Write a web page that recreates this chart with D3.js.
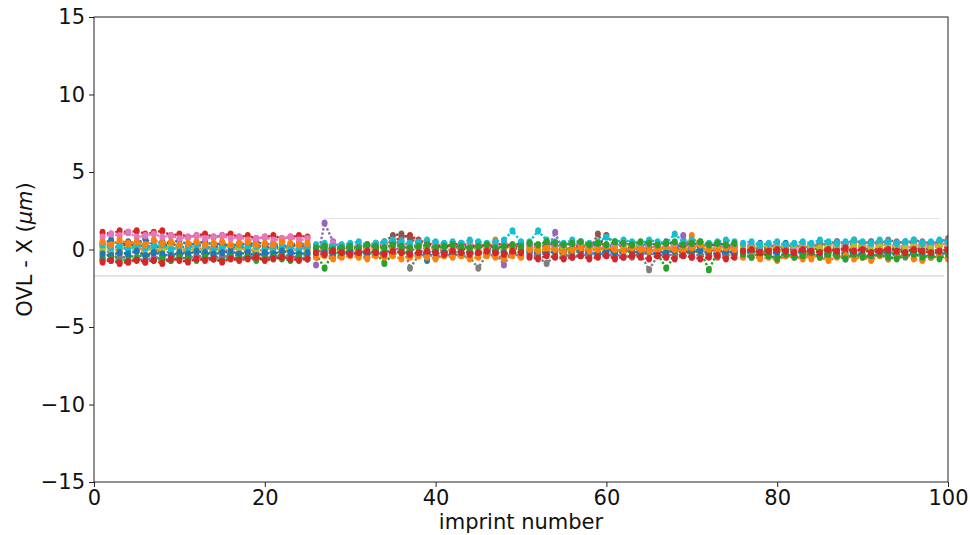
<!DOCTYPE html>
<html>
<head>
<meta charset="utf-8">
<script src="https://cdn.jsdelivr.net/npm/d3@7"></script>
<style>
  body { margin: 0; background: #fff; }
  svg { display: block; }
  text { font-family: "DejaVu Sans", sans-serif; }
</style>
</head>
<body>
<svg id="chart" width="970" height="535"></svg>
<script>
// Imprint numbers and the first imprint of each batch (lines break between batches)
const imprints = d3.range(1, 101);
const batchStarts = [1, 26, 51, 76];
const xTicks = [0, 20, 40, 60, 80, 100];
const yTicks = [-15, -10, -5, 0, 5, 10, 15];
// Reference levels (µm)
const limitUpper = 2.0;
const limitLower = -1.7;

// OVL-X per mark position, one array per position, 100 imprints each
const ovl00 = [.4,.6,.3,.5,.4,.7,.3,.5,.4,.6,.3,.4,.5,.3,.4,.2,.4,.3,.5,.3,.4,.2,.3,.4,.3,
  .2,.3,.1,.2,0,.1,.2,.1,.3,.2,.4,.3,.2,-.7,.1,.2,.3,.1,.2,.2,.3,.1,.2,.3,.4,
  .4,.3,.5,.2,.3,.4,.2,.3,.4,.3,.2,.4,.3,.2,.4,.3,.5,.3,.2,.4,.3,.2,.4,.3,.2,
  .3,.2,.4,.3,.2,.4,.3,.2,.3,.4,.3,.5,.4,.3,.4,.5,.3,.4,.3,.5,.4,.3,.4,.5,.4];
const ovl01 = [0,.1,-.1,.2,0,.1,-.1,0,.1,0,-.1,.1,0,.1,-.1,0,.1,0,-.1,0,.1,0,-.1,0,.1,
  .1,-.1,0,.1,0,-.1,.1,0,.2,.1,0,.1,.2,0,.1,-.1,0,.1,0,.1,0,.6,.1,.2,0,
  .1,0,.2,-.1,.1,0,.2,.1,0,.1,-.1,0,.1,0,.2,.1,0,.1,0,.9,.1,0,.1,.2,0,
  -.2,0,-.3,.1,-.1,0,-.2,.1,-.6,0,-.1,.1,0,-.2,.1,-.1,0,-.3,.1,-.1,0,-.2,-.1,0,-.1];
const ovl02 = [-.5,-.3,-.6,-.4,-.5,-.3,-.6,-.4,-.5,-.3,-.4,-.5,-.3,-.4,-.6,-.3,-.4,-.5,-.3,-.4,-.5,-.3,-.4,-.5,-.3,
  -.3,-1.2,-.2,-.3,-.1,-.2,-.3,-.2,-.9,-.3,-.2,-.4,-.3,-.2,-.3,-.1,-.2,-.3,-.2,-.3,-.1,-.2,-.3,-.2,-.3,
  -.2,-.3,-.1,-.2,-.3,-.1,-.2,-.3,-.2,-.1,-.3,-.2,-.1,-.3,-.2,-.3,-1.2,-.4,-.3,-.2,-.1,-1.3,-.2,-.3,-.2,
  -.1,-.2,0,-.1,-.2,-.1,0,-.2,-.1,0,-.2,-.1,-.3,-.1,0,-.2,-.1,-.3,-.2,-.1,0,-.2,-.1,-.3,-.2];
const ovl03 = [1.1,1.0,1.2,1.1,1.2,1.0,1.1,1.2,.9,1.0,.8,.9,1.0,.8,.9,1.0,.8,.9,.7,.8,.9,.7,.8,.9,.8,
  .1,.2,0,.1,.2,.1,.3,.2,.4,.5,.8,.9,.6,.4,.3,.2,.3,.4,.2,.3,.2,.3,.4,.2,.3,
  .2,.1,.3,.2,0,.1,.2,.3,.2,.9,.3,.2,.1,.2,.3,.1,.2,.3,.2,.1,.2,.3,.2,.1,.2,
  .1,0,.2,.1,0,.1,.2,0,.1,.2,0,.1,-.1,0,.1,.2,0,.1,0,.2,.1,0,.1,.2,.1];
const ovl04 = [-.6,-.7,-.5,-.8,-.6,-.7,-.5,-.6,-.7,-.5,-.6,-.4,-.5,-.6,-.4,-.5,-.6,-.4,-.5,-.6,-.4,-.5,-.4,-.6,-.5,
  -1.0,1.7,.5,-.1,-.3,-.2,-.1,-.3,-.2,-.1,.2,.1,-.2,-.1,-.3,-.2,-.1,-.3,-.2,-.1,-.3,-.2,-1.0,-.1,-.2,
  -.3,-.4,-.2,1.1,-.3,-.5,-.4,-.3,-.2,-.4,-.3,-.5,-.4,-.3,-.2,-.4,-.3,-.4,.9,-.3,-.4,-.2,-.3,-.4,-.3,
  -.4,-.5,-.3,-.4,-.5,-.3,-.4,-.5,-.3,-.4,-.5,-.4,-.6,-.3,-.4,-.5,-.3,-.6,-.4,-.5,-.3,-.4,-.5,-.3,-.4];
const ovl05 = [.2,.3,.1,.4,.2,.3,.1,.2,.4,.2,.1,.3,.2,.1,.3,.2,.1,.2,.3,.1,.2,.1,.2,.3,.1,
  0,.1,-.1,0,.1,.2,.3,.4,.5,.9,1.0,.7,.4,.3,.2,.1,.2,0,.1,.2,.1,0,.2,.1,0,
  -.1,0,-.2,-.1,0,-.1,.1,-.1,1.0,0,-.1,0,-.2,-.1,0,-.1,-.2,0,-.1,-.2,0,-.1,0,-.2,-.1,
  0,-.1,.1,0,-.1,.1,0,-.2,0,.1,-.1,0,.1,-.1,0,.1,-.1,0,.1,-.1,0,.1,0,-.1,0];
const ovl06 = [.8,1.0,.9,1.1,.8,.9,1.0,.8,.9,.7,.8,.9,.7,.8,.9,.7,.8,.6,.7,.8,.6,.7,.8,.6,.7,
  .3,.2,.4,.3,.2,.3,.2,.4,.3,.2,.3,.4,.3,.2,.4,.3,.2,.3,.4,.3,.2,.3,.4,.3,.2,
  .3,.2,.1,.3,.2,.4,.3,.2,.1,.3,.2,.4,.3,.2,.3,.1,.2,.3,.4,.2,.3,.2,.1,.3,.2,
  .2,.3,.1,.2,.3,.2,.1,.3,.2,.4,.2,.3,.2,.1,.3,.2,.4,.2,.3,.1,.2,.3,.2,.4,.3];
const ovl07 = [-.2,-.1,-.3,-.2,-.1,-.3,-.2,-.1,-.2,-.3,-.1,-.2,-.3,-.1,-.2,-.3,-.2,-.1,-.2,-.3,-.1,-.2,-.1,-.3,-.2,
  -.4,-.3,-.5,-.4,-.3,-.4,-.5,-.3,-.4,.3,.6,-1.2,-.4,-.3,-.5,-.4,-.3,-.4,-.5,-1.2,-.3,-.4,-.5,-.3,-.4,
  -.4,-.5,-.9,-.4,-.5,-.3,-.4,-.5,-.4,-.3,-.5,-.4,-.5,-.3,-1.3,-.4,-.5,-.3,-.4,-.5,-.3,-.4,-.5,-.4,-.3,
  .1,.2,0,.3,.1,.2,.3,.1,.2,.3,.4,.5,.4,.6,.4,.5,.4,.6,.5,.4,.6,.5,.4,.5,.7];
const ovl08 = [.1,0,.2,.1,0,-.1,.1,0,.2,.1,0,.1,-.1,0,.1,.2,0,.1,0,-.1,.1,0,.1,0,-.1,
  -.1,0,.1,-.1,0,.1,0,-.1,.1,0,-.1,0,.1,0,-.1,.1,0,-.1,.1,0,.1,-.1,0,.1,0,
  0,.1,-.1,0,.1,0,-.1,.1,0,-.1,0,.1,.4,0,-.1,0,.1,-.1,0,.1,-.1,0,.1,0,-.1,
  .2,.1,.3,.2,.1,.2,.3,.1,.2,.1,.3,.2,.1,.3,.2,.1,.2,.3,.2,.1,.3,.2,.1,.2,.3];
const ovl09 = [.3,.1,.2,0,.3,.1,.2,.3,0,.2,.1,.3,.2,0,.1,.2,.3,.1,.2,0,.1,.2,.1,0,.2,
  .3,.4,.2,.3,.4,.5,.3,.4,.5,.6,.5,.4,.5,.6,.5,.4,.5,.4,.6,.5,.4,.5,.6,1.2,.5,
  .5,1.2,.6,.5,.4,.6,.5,.4,.5,.8,.5,.6,.5,.4,.6,.5,.4,1.0,.5,.6,.5,.4,.5,.6,.5,
  .4,.5,.3,.4,.5,.3,.4,.5,.4,.6,.5,.4,.5,.6,.5,.4,.6,.5,.4,.5,.6,.4,.5,.6,.5];
const ovl10 = [-.3,-.4,-.2,-.3,-.1,-.4,-.2,-.3,-.4,-.2,-.3,-.1,-.2,-.3,-.2,-.1,-.3,-.2,-.4,-.2,-.3,-.1,-.2,-.3,-.2,
  -.2,-.1,-.3,-.2,-.1,-.3,-.2,-.1,-.2,-.3,-.1,-.2,-.3,-.2,-.1,-.2,-.3,-.1,-.2,-.3,-.2,-.1,-.2,-.3,-.1,
  -.1,-.2,-.3,-.1,-.2,0,-.1,-.2,-.3,-.1,-.2,-.1,0,-.2,-.1,-.3,-.2,-.1,-.2,0,-.1,-.2,-.3,-.1,-.2,
  -.3,-.2,-.4,-.3,-.2,-.4,-.3,-.2,-.3,-.4,-.2,-.3,-.4,-.2,-.3,-.4,-.3,-.2,-.4,-.3,-.2,-.3,-.4,-.3,-.2];
const ovl11 = [.5,.3,.6,.4,.5,.3,.6,.4,.5,.3,.4,.5,.3,.4,.5,.3,.4,.5,.3,.4,.3,.5,.4,.3,.4,
  -.5,-.4,-.6,-.5,-.4,-.5,-.6,-.4,-.5,-.4,-.6,-.5,-.4,-.5,-.6,-.4,-.5,-.4,-.6,-.5,-.4,-.5,-.6,-.4,-.5,
  0,-.1,.1,0,-.2,0,.1,-.1,0,.2,0,-.1,.1,0,-.1,0,.2,0,-.1,.1,.3,0,-.1,.1,0,
  -.5,-.4,-.6,-.5,-.7,-.4,-.5,-.6,-.4,-.5,-.7,-.5,-.4,-.6,-.5,-.7,-.4,-.6,-.5,-.4,-.6,-.7,-.5,-.4,-.6];
const ovl12 = [-.7,-.6,-.8,-.7,-.6,-.8,-.7,-.6,-.7,-.5,-.6,-.7,-.5,-.6,-.7,-.5,-.6,-.5,-.7,-.6,-.5,-.6,-.7,-.5,-.6,
  .1,.2,0,.1,.2,.1,.3,.2,.1,.3,.2,.1,.2,.3,.1,.2,.3,.2,.1,.2,.3,.1,.2,.3,.2,
  .4,.3,.5,.4,.3,.4,.5,.3,.4,.3,.5,.4,.3,.5,.4,.3,.4,.5,.3,.4,.5,.3,.4,.3,.4,
  -.3,-.5,-.2,-.4,-.6,-.3,-.5,-.4,-.2,-.5,-.3,-.4,-.6,-.3,-.5,-.4,-.3,-.5,-.6,-.4,-.3,-.5,-.4,-.6,-.3];
const ovl13 = [-.8,-.7,-.9,-.8,-.7,-.8,-.7,-.9,-.6,-.7,-.8,-.6,-.7,-.6,-.8,-.6,-.7,-.6,-.5,-.7,-.6,-.5,-.6,-.7,-.6,
  -.2,-.3,-.1,-.2,-.3,-.2,-.1,-.2,-.3,-.1,-.2,-.3,-.2,-.1,-.2,-.3,-.1,-.2,-.3,-.2,-.1,-.2,-.3,-.1,-.2,
  -.5,-.6,-.4,-.5,-.6,-.5,-.4,-.6,-.5,-.4,-.6,-.5,-.4,-.5,-.6,-.4,-.5,-.6,-.4,-.5,-.6,-.5,-.4,-.6,-.5,
  -.1,0,-.2,-.1,0,-.1,-.2,0,-.1,-.2,0,-.1,.1,-.1,0,-.2,-.1,0,-.1,-.2,0,-.1,-.2,-.1,0];

const seriesList = [ovl00, ovl01, ovl02, ovl03, ovl04, ovl05, ovl06,
                    ovl07, ovl08, ovl09, ovl10, ovl11, ovl12, ovl13];
const palette = d3.schemeCategory10;

const svg = d3.select("#chart");
const plot = { left: 94, right: 948, top: 17, bottom: 482 };

const x = d3.scaleLinear().domain([0, 100]).range([plot.left, plot.right]);
const y = d3.scaleLinear().domain([-15, 15]).range([plot.bottom, plot.top]);

// Reference lines
svg.append("line")
  .attr("x1", x(27)).attr("x2", x(99))
  .attr("y1", y(limitUpper)).attr("y2", y(limitUpper))
  .attr("stroke", "#e2e2e2").attr("stroke-width", 1.2);
svg.append("line")
  .attr("x1", x(0)).attr("x2", x(99.5))
  .attr("y1", y(limitLower)).attr("y2", y(limitLower))
  .attr("stroke", "#d4d4d4").attr("stroke-width", 1.2);

svg.append("clipPath").attr("id", "plotClip")
  .append("rect")
  .attr("x", plot.left).attr("y", plot.top)
  .attr("width", plot.right - plot.left).attr("height", plot.bottom - plot.top);

const batchOf = i => d3.bisectRight(batchStarts, imprints[i]) - 1;

const line = d3.line()
  .x(d => x(d.n))
  .y(d => y(d.v));

const gData = svg.append("g").attr("clip-path", "url(#plotClip)");

seriesList.forEach((vals, k) => {
  const color = palette[k % palette.length];
  const pts = vals.map((v, i) => ({ n: imprints[i], v, b: batchOf(i) }));
  const groups = d3.groups(pts, d => d.b).map(g => g[1]);
  const g = gData.append("g");
  g.selectAll("path")
    .data(groups)
    .join("path")
    .attr("d", line)
    .attr("fill", "none")
    .attr("stroke", color)
    .attr("stroke-width", 2.4)
    .attr("stroke-dasharray", "2.4,2");
  g.selectAll("ellipse")
    .data(pts)
    .join("ellipse")
    .attr("cx", d => x(d.n))
    .attr("cy", d => y(d.v))
    .attr("rx", 3)
    .attr("ry", 3.6)
    .attr("fill", color);
});

// Axes
const fontSize = "21px";
const xAxis = svg.append("g")
  .attr("transform", `translate(0,${plot.bottom})`)
  .call(d3.axisBottom(x).tickValues(xTicks).tickSize(5).tickPadding(3).tickFormat(d3.format("d")));
const yAxis = svg.append("g")
  .attr("transform", `translate(${plot.left},0)`)
  .call(d3.axisLeft(y).tickValues(yTicks).tickSize(5).tickPadding(4).tickFormat(d3.format("d")));

[xAxis, yAxis].forEach(a => {
  a.select(".domain").remove();
  a.selectAll("line").attr("stroke", "#222").attr("stroke-width", 1);
  a.selectAll("text").attr("fill", "#111").style("font-size", fontSize)
    .style("font-family", "'DejaVu Sans', sans-serif");
});

// Frame
svg.append("rect")
  .attr("x", plot.left).attr("y", plot.top)
  .attr("width", plot.right - plot.left).attr("height", plot.bottom - plot.top)
  .attr("fill", "none").attr("stroke", "#222").attr("stroke-width", 1);

// Axis titles
svg.append("text")
  .attr("x", (plot.left + plot.right) / 2).attr("y", 529)
  .attr("text-anchor", "middle")
  .style("font-size", fontSize).attr("fill", "#111")
  .text("imprint number");

const yt = svg.append("text")
  .attr("transform", `translate(32,${(plot.top + plot.bottom) / 2}) rotate(-90)`)
  .attr("text-anchor", "middle")
  .style("font-size", fontSize).attr("fill", "#111");
yt.append("tspan").text("OVL - X (");
yt.append("tspan").style("font-style", "italic").text("μm");
yt.append("tspan").text(")");
</script>
</body>
</html>
